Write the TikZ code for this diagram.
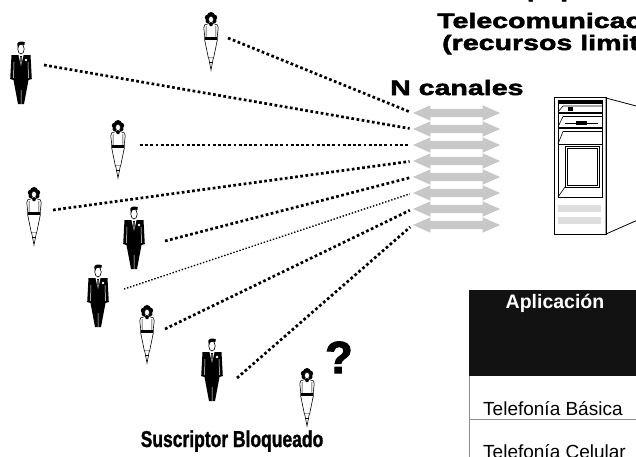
\documentclass[tikz,border=0pt]{standalone}
\usepackage{fontspec}
\setmainfont{Liberation Sans}
\newfontfamily\titlefont{Liberation Sans Bold}[FakeStretch=1.36, FakeBold=2.5]
\newfontfamily\heavyfont{Liberation Sans Bold}[FakeBold=2.5]
\newfontfamily\narrowfont{Liberation Sans Bold}[FakeStretch=0.76, FakeBold=1.2]
\usetikzlibrary{shapes.arrows}

\definecolor{chgray}{RGB}{200,200,200}
\definecolor{bargray}{RGB}{222,222,222}
\definecolor{rulegray}{RGB}{140,140,140}

\tikzset{
  pics/man/.style={code={
      % suit and trousers
      \fill (-9.5,13) -- (-10.8,37) -- (-7.5,38) -- (-3,62) -- (3,62) -- (7.5,38) -- (10.8,37) -- (9.5,13) -- cycle;
      \draw[white, line width=0.5pt] (-7,20) -- (-7.5,36) (7,20) -- (7.5,36) (0,48) -- (0,62);
      \fill[white] (-2.5,13) -- (2.5,13) -- (0,24) -- cycle;
      \fill (-0.8,14) -- (0.8,14) -- (0.4,22) -- (0,23.5) -- (-0.4,22) -- cycle;
      \fill[white] (5,18) circle (1.3);
      % head and hair
      \filldraw[fill=white, line width=0.6pt] (0,7) ellipse (3.2 and 5);
      \fill (-3.4,6) -- (-3.6,1.5) .. controls (-3,-0.8) and (2,-1.2) .. (3.8,0.5) -- (3.4,3) -- (0.5,2.4) -- (-2.2,3.4) -- cycle;
  }},
  pics/woman/.style={code={
      % hair
      \fill (0,4) circle (4) (-3.2,5.5) circle (3) (3.2,5.5) circle (3) (-3.3,9) circle (2.2) (3.3,9) circle (2.2);
      \filldraw[fill=white, line width=0.5pt] (0,7.5) ellipse (2.4 and 3.4);
      % dress
      \filldraw[fill=white, line width=0.6pt] (-2,11.5) -- (-6.5,13) -- (-7.2,16) -- (-6.3,24) -- (-6.3,28) -- (-2.6,46) -- (2.6,46) -- (6.3,28) -- (6.3,24) -- (7.2,16) -- (6.5,13) -- (2,11.5) -- cycle;
      \fill (-2,11.5) -- (2,11.5) -- (1.2,14) -- (-1.2,14) -- cycle;
      \fill (-6.3,24.5) rectangle (6.3,27.5);
      \draw[line width=0.5pt] (-4.8,14) -- (-5,25) (4.8,14) -- (5,25);
      \filldraw[fill=white, line width=0.6pt] (-2.3,46) -- (0,58) -- (2.3,46);
      \draw[line width=0.6pt] (-1.6,50) -- (1.6,50);
  }}
}

\begin{document}
\begin{tikzpicture}[x=1pt, y=-1pt,
    channel/.style = {double arrow, fill=chgray, draw=none, inner xsep=0pt, inner ysep=4pt,
      minimum width=15pt, minimum height=87pt, double arrow head extend=3.5pt, double arrow tip angle=48},
    callline/.style = {line width=2.7pt, dash pattern=on 2.7pt off 2.5pt, shorten >=3pt},
    thincall/.style = {line width=1.4pt, dash pattern=on 1.4pt off 1.8pt, shorten >=3pt},
    label/.style = {inner sep=0pt},
    heading/.style = {label, anchor=base west, font=\titlefont\fontsize{21}{22}\selectfont}]

  \useasboundingbox (0,0) rectangle (636,456);
  \clip (0,0) rectangle (636,456);

  % title
  \node[heading] (title1) at (498,-3) {Equipos de};
  \node[heading] (title2) at (437,28) {Telecomunicaciones};
  \node[heading] (title3) at (442,50) {(recursos limitados)};
  \node[heading] (ncan) at (390,95) {N canales};

  % channels
  \foreach \i in {1,...,8}
    \node[channel] (ch\i) at (456.5, {97+16*\i}) {};

  % subscribers
  \pic (usr1) at (211,12) {woman};
  \pic (usr2) at (21,42) {man};
  \pic (usr3) at (118,120) {woman};
  \pic (usr4) at (34,187) {woman};
  \pic (usr5) at (134,207) {man};
  \pic (usr6) at (98,265) {man};
  \pic (usr7) at (147,305) {woman};
  \pic (usr8) at (212,339) {man};
  \pic (usr9) at (307,368) {woman};

  \foreach \i/\x/\y in {1/228/38, 2/44/65, 3/140/145, 4/53/210, 5/165/241, 6/124/289, 7/165/329, 8/237/378}
    \coordinate (hand\i) at (\x,\y);

  \foreach \i/\s in {1/callline, 2/callline, 3/callline, 4/callline, 5/callline, 6/thincall, 7/callline, 8/callline}
    \draw[\s] (hand\i) -- (ch\i.west);

  \node[label, anchor=base] (query) at (339,373) {\heavyfont\fontsize{45}{45}\selectfont ?};
  \node[label, anchor=base] (blocked) at (232,447) {\narrowfont\fontsize{23}{24}\selectfont Suscriptor Bloqueado};

  % exchange cabinet
  \filldraw[fill=white, line width=0.8pt] (606,98) -- (640,107) -- (640,219) -- (606,234) -- cycle;
  \draw[line width=0.8pt] (554,97) rectangle (606,234);
  \draw[line width=0.6pt] (558,100) rectangle (602,197);
  \fill (558,100) rectangle (602,103);
  \foreach \t/\b in {103/112, 113.5/127, 128.5/144} {
    \draw[line width=0.6pt] (558,\t) -- (602,\t) (558,\b) -- (602,\b);
    \draw[line width=0.6pt] (558,\b) -- (563,\t+3) -- (602,\t+3);
  }
  \fill (568,107) rectangle (573,111);
  \draw[line width=0.6pt] (565,123) -- (598,123);
  \fill (576,121) rectangle (587,125);
  \draw[line width=0.6pt] (565,146) rectangle (599,187);
  \draw[line width=0.6pt] (567,148) rectangle (597,185);
  \draw[line width=0.6pt] (558,197) -- (565,187);
  \fill[bargray] (558,205) rectangle (601,212);
  \fill[bargray] (558,217) rectangle (601,224);

  % table
  \fill[black!93] (469,290) rectangle (640,376);
  \node[label, anchor=base, text=white] (head) at (555,308) {\bfseries\fontsize{19.5}{20}\selectfont Aplicación};
  \draw[rulegray] (469,376) -- (469,460) (469,419) -- (640,419);
  \node[label, anchor=base west] (row1) at (483,415) {\fontsize{19}{20}\selectfont Telefonía Básica};
  \node[label, anchor=base west] (row2) at (483,458) {\fontsize{19}{20}\selectfont Telefonía Celular};

\end{tikzpicture}
\end{document}
